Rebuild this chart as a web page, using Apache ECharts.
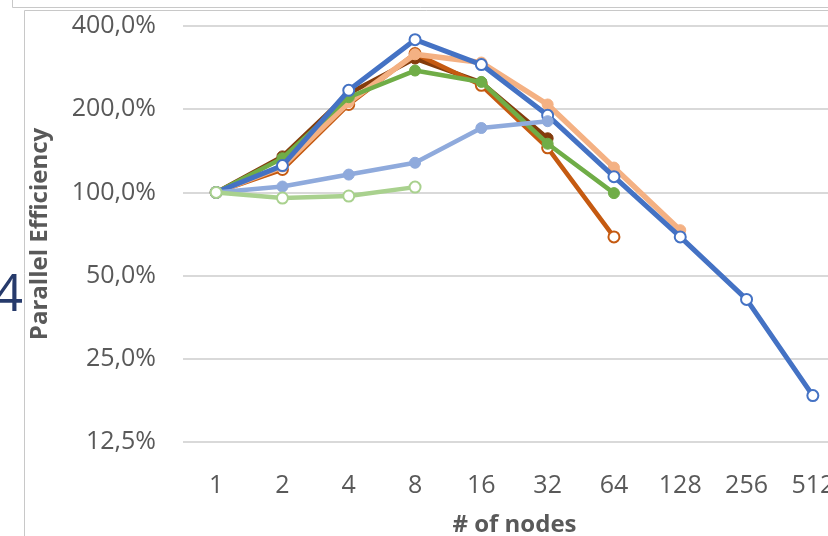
<!DOCTYPE html>
<html><head><meta charset="utf-8">
<script src="https://cdn.jsdelivr.net/npm/echarts@6/dist/echarts.min.js"></script>
<style>html,body{margin:0;padding:0;background:#fff}#c{width:828px;height:536px}</style>
</head><body><div id="c"></div>
<script>
// x categories (# of nodes)
const nodes = ['1','2','4','8','16','32','64','128','256','512'];
// y tick values (fraction; 1 = 100%)
const yTicks = [0.125, 0.25, 0.5, 1, 2, 4];
// series values, in percent
const blueVals       = [100, 125, 234, 357, 290, 190, 114, 69, 41, 18.4];
const lightOrangeVals= [100, 124, 212, 316, 295, 208, 123, 73];
const darkOrangeVals = [100, 121, 208, 318, 244, 145, 69];
const brownVals      = [100, 135, 228, 305, 250, 157];
const greenVals      = [100, 133, 221, 276, 251, 150, 99.4];
const lightBlueVals  = [100, 105, 116, 128, 171, 181];
const lightGreenVals = [100, 95.4, 97, 104.5];

const FONT = 'Open Sans';
const GRAY = '#595959';

function mk(vals, color, hollow, width, z) {
  return {
    type: 'line',
    data: vals.map(v => v / 100),
    symbol: 'circle',
    symbolSize: 11,
    z: z,
    lineStyle: { color: color, width: width },
    itemStyle: hollow ? { color: '#ffffff', borderColor: color, borderWidth: 2 }
                      : { color: color, borderColor: color, borderWidth: 1 },
    emphasis: { disabled: true }
  };
}

const chart = echarts.init(document.getElementById('c'), null, { renderer: 'canvas' });
chart.setOption({
  animation: false,
  backgroundColor: '#ffffff',
  grid: { left: 183, top: 26, width: 663, height: 416, containLabel: false, outerBoundsMode: 'none' },
  xAxis: {
    type: 'category',
    data: nodes,
    boundaryGap: true,
    axisLine: { show: false },
    axisTick: { show: false },
    axisLabel: { color: GRAY, fontFamily: FONT, fontSize: 25, margin: 31 },
    name: '# of nodes',
    nameLocation: 'middle',
    nameGap: 71,
    nameTextStyle: { color: GRAY, fontFamily: FONT, fontSize: 24, fontWeight: 'bold' }
  },
  yAxis: {
    type: 'log',
    logBase: 2,
    min: yTicks[0],
    max: yTicks[yTicks.length - 1],
    axisLine: { show: false },
    axisTick: { show: false },
    splitLine: { show: true, lineStyle: { color: '#d9d9d9', width: 2 } },
    axisLabel: {
      color: GRAY, fontFamily: FONT, fontSize: 25, margin: 27,
      formatter: v => (v * 100).toFixed(1).replace('.', ',') + '%'
    },
    name: 'Parallel Efficiency',
    nameLocation: 'middle',
    nameGap: 131,
    nameTextStyle: { color: GRAY, fontFamily: FONT, fontSize: 24, fontWeight: 'bold' }
  },
  series: [
    mk(brownVals, '#843C0C', false, 4.5, 2),
    mk(darkOrangeVals, '#C55A11', true, 4.5, 3),
    mk(lightOrangeVals, '#F4B183', false, 5.5, 4),
    mk(greenVals, '#70AD47', false, 4.5, 5),
    mk(blueVals, '#4472C4', true, 5, 6),
    mk(lightBlueVals, '#8FAADC', false, 4.5, 7),
    mk(lightGreenVals, '#A9D18E', true, 4.5, 8)
  ],
  graphic: [
    { type: 'polyline', shape: { points: [[12.5, 0], [12.5, 7.5], [828, 7.5]] },
      style: { stroke: '#c8c8c8', lineWidth: 1, fill: null } },
    { type: 'polyline', shape: { points: [[24.5, 536], [24.5, 10.5], [828, 10.5]] },
      style: { stroke: '#c8c8c8', lineWidth: 1, fill: null } },
    { type: 'text', x: 23, y: 296,
      style: { text: '4', font: '52px "Open Sans"', fill: '#263a6b', align: 'right', verticalAlign: 'middle' } }
  ]
});
</script>
</body></html>
